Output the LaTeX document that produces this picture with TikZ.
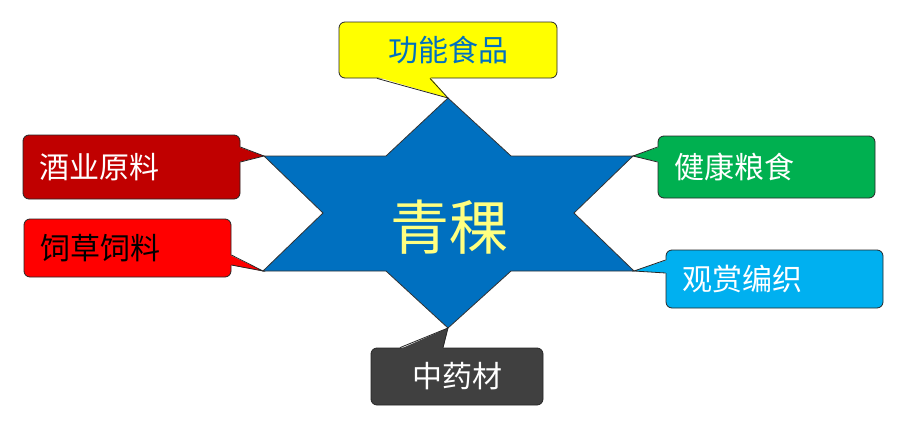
\documentclass[tikz,border=0pt]{standalone}
\usepackage{fontspec}
\usepackage{xcolor}
\usepackage{tikz}
\usetikzlibrary{calc}
\usetikzlibrary{positioning}
\newfontfamily\cjk{Noto Sans CJK SC}
\definecolor{starblue}{RGB}{0,112,192}
\definecolor{staryellow}{RGB}{255,255,128}
\definecolor{tagyellow}{RGB}{255,255,0}
\definecolor{tagdarkred}{RGB}{192,0,0}
\definecolor{tagred}{RGB}{255,0,0}
\definecolor{taggreen}{RGB}{0,176,80}
\definecolor{tagblue}{RGB}{0,176,240}
\definecolor{taggray}{RGB}{64,64,64}
\tikzstyle{tag} = [draw=black!85, line width=0.8pt, rounded corners=6pt, inner xsep=16pt, inner ysep=0pt, font=\cjk\fontsize{30}{32}\selectfont]
\tikzstyle{beak} = [draw=black!85, line width=0.8pt, line join=miter]

\begin{document}
\begin{tikzpicture}[x=1pt, y=-1pt]
\path [use as bounding box] (0, 0) rectangle (913, 423);
% star
\coordinate (Nt) at (448, 98);
\coordinate (NEt) at (633, 156);
\coordinate (SEt) at (634, 271);
\coordinate (St) at (448, 328);
\coordinate (SWt) at (263, 271);
\coordinate (NWt) at (264, 156);
\draw [fill=starblue, draw=black!80, line width=0.8pt]
  (Nt) -- (511, 156) -- (NEt) -- (574, 213) -- (SEt) -- (511, 271)
  -- (St) -- (386, 271) -- (SWt) -- (323, 213) -- (NWt) -- (386, 156) -- cycle;
\node [text=staryellow, font=\cjk\fontsize{59}{62}\selectfont, inner sep=0] (Q) at (449, 227) {青稞};
% tags
\node [tag, fill=tagyellow, text=starblue, text width=186pt, align=center, minimum height=56pt] (F) at (448, 50) {功能食品};
\node [tag, fill=tagdarkred, text=white, text width=185pt, align=left, minimum height=64pt] (W) at (131.5, 167) {酒业原料};
\node [tag, fill=tagred, text=black, text width=175pt, align=left, minimum height=58pt] (S) at (127.5, 248) {饲草饲料};
\node [tag, fill=taggreen, text=white, text width=185pt, align=left, minimum height=62pt] (H) at (766.5, 167) {健康粮食};
\node [tag, fill=tagblue, text=white, text width=185pt, align=left, minimum height=58pt] (O) at (774.5, 279) {观赏编织};
\node [tag, fill=taggray, text=white, text width=140pt, align=center, minimum height=57pt] (M) at (457, 376.5) {中药材};
% pointers
\fill [tagyellow] ($(F.south)+(-71,-1.5)$) -- (Nt) -- ($(F.south)+(-18,-1.5)$) -- cycle;
\draw [beak] ($(F.south)+(-71,0)$) -- (Nt) -- ($(F.south)+(-18,0)$);
\fill [tagdarkred] ($(W.east)+(-1.5,-20)$) -- (NWt) -- ($(W.east)+(-1.5,-5)$) -- cycle;
\draw [beak] ($(W.east)+(0,-20)$) -- (NWt) -- ($(W.east)+(0,-5)$);
\fill [tagred] ($(S.east)+(-1.5,7)$) -- (SWt) -- ($(S.east)+(-1.5,17)$) -- cycle;
\draw [beak] ($(S.east)+(0,7)$) -- (SWt) -- ($(S.east)+(0,17)$);
\fill [taggreen] ($(H.west)+(1.5,-20)$) -- (NEt) -- ($(H.west)+(1.5,-5)$) -- cycle;
\draw [beak] ($(H.west)+(0,-20)$) -- (NEt) -- ($(H.west)+(0,-5)$);
\fill [tagblue] ($(O.west)+(1.5,-19)$) -- (SEt) -- ($(O.west)+(1.5,-6)$) -- cycle;
\draw [beak] ($(O.west)+(0,-19)$) -- (SEt) -- ($(O.west)+(0,-6)$);
\fill [taggray] ($(M.north)+(-57,1.5)$) -- (St) -- ($(M.north)+(-14,1.5)$) -- cycle;
\draw [beak] ($(M.north)+(-57,0)$) -- (St) -- ($(M.north)+(-14,0)$);
\end{tikzpicture}
\end{document}
